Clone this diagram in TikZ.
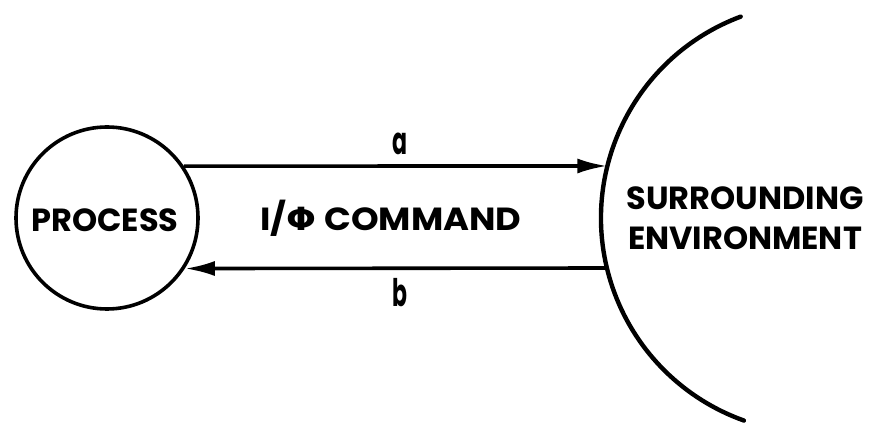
\documentclass[tikz,border=0pt]{standalone}
\usepackage{fontspec}
\setmainfont{Poppins}[BoldFont={* Bold}]
\newfontfamily\phifont{DejaVu Sans}[BoldFont={DejaVu Sans Bold}]
\usetikzlibrary{arrows.meta,calc}
\begin{document}
\begin{tikzpicture}[x=1pt,y=1pt,
    ink/.style={line width=4pt,line cap=round},
    flow/.style={line width=3.6pt,-{Latex[length=30pt,width=15pt]}},
    capt/.style={font=\fontsize{32}{38}\selectfont\bfseries,inner sep=0pt},
    lbl/.style={font=\fontsize{38}{38}\selectfont\bfseries,inner sep=0pt,xscale=0.58}]
  \useasboundingbox (0,0) rectangle (879,423);
  % process bubble
  \node[circle,draw,line width=3.6pt,minimum size=182pt,inner sep=0pt] (proc) at (107,205) {};
  \node[capt] (ptxt) at (105,203) {PROCESS};
  % boundary of the surrounding environment
  \coordinate (envc) at (816,205);
  \draw[ink,line width=4.4pt] ($(envc)+(110.5:215)$) arc[start angle=110.5,end angle=250.4,radius=215];
  \coordinate (ain) at ($(envc)+(166.0:215)$);
  \coordinate (bout) at ($(envc)+(193.45:215)$);
  \node[capt,align=center] (etxt) at (745,205) {SURROUNDING\\[2pt]ENVIRONMENT};
  % command flows
  \draw[flow] (proc.34.85) -- (ain);
  \draw[flow] (bout) -- (proc.-33.33);
  \node[lbl,anchor=base] (la) at (400,268) {a};
  \node[lbl,anchor=base] (lb) at (400,116) {b};
  \node[capt,xscale=1.1] (cmd) at (391,205) {I/{\phifont\bfseries Φ} COMMAND};
\end{tikzpicture}
\end{document}
